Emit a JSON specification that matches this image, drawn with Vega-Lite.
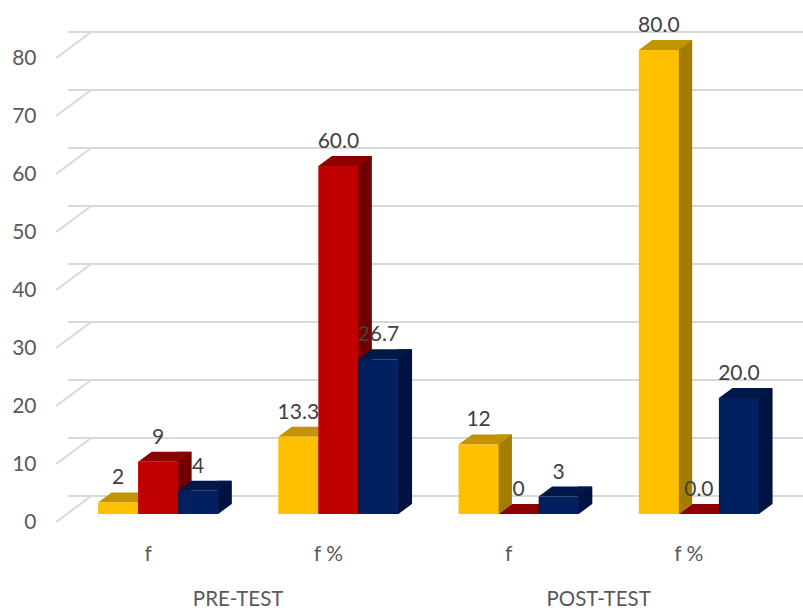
{"$schema":"https://vega.github.io/schema/vega-lite/v6.json","width":721,"height":464,"autosize":"none","padding":{"left":68,"top":50,"right":14,"bottom":94},"background":"white","config":{"view":{"stroke":null},"font":"Lato"},
"datasets":{"bars":[
{"cat":"PRE-TEST|f","series":"a","value":2,"label":"2"},
{"cat":"PRE-TEST|f","series":"b","value":9,"label":"9"},
{"cat":"PRE-TEST|f","series":"c","value":4,"label":"4"},
{"cat":"PRE-TEST|f %","series":"a","value":13.3,"label":"13.3"},
{"cat":"PRE-TEST|f %","series":"b","value":60,"label":"60.0"},
{"cat":"PRE-TEST|f %","series":"c","value":26.7,"label":"26.7"},
{"cat":"POST-TEST|f","series":"a","value":12,"label":"12"},
{"cat":"POST-TEST|f","series":"b","value":0,"label":"0"},
{"cat":"POST-TEST|f","series":"c","value":3,"label":"3"},
{"cat":"POST-TEST|f %","series":"a","value":80,"label":"80.0"},
{"cat":"POST-TEST|f %","series":"b","value":0,"label":"0.0"},
{"cat":"POST-TEST|f %","series":"c","value":20,"label":"20.0"}],
"ticks":[{"v":0},{"v":10},{"v":20},{"v":30},{"v":40},{"v":50},{"v":60},{"v":70},{"v":80}],
"groups":[{"cat":"PRE-TEST|f","group":"PRE-TEST","v":0},{"cat":"POST-TEST|f","group":"POST-TEST","v":0}]},
"layer":[
{"data":{"name":"ticks"},"mark":{"type":"rule","color":"#D9D9D9","strokeWidth":2,"xOffset":23,"yOffset":-18},
"encoding":{"y":{"field":"v","type":"quantitative","scale":{"domain":[0,80],"nice":false},"axis":{"title":null,"domain":false,"ticks":false,"grid":false,"values":[0,10,20,30,40,50,60,70,80],"labelFontSize":21,"labelColor":"#595959","labelPadding":32,"labelOffset":8,"labelFont":"Lato"}}}},
{"data":{"name":"ticks"},"mark":{"type":"point","filled":false,"size":4,"opacity":1,"stroke":"#D9D9D9","strokeWidth":2,"shape":"M-102,8L-67,-18"},
"encoding":{"x":{"datum":"PRE-TEST|f","type":"nominal","scale":{"domain":["PRE-TEST|f","PRE-TEST|f %","POST-TEST|f","POST-TEST|f %"],"paddingInner":0.3333,"paddingOuter":0.1667},"axis":{"title":null,"domain":false,"ticks":false,"labelAngle":0,"labelFontSize":21,"labelColor":"#595959","labelPadding":29,"labelOffset":-10,"labelFont":"Lato","labelExpr":"split(datum.value,'|')[1]"}},"y":{"field":"v","type":"quantitative"}}},
{"data":{"name":"bars"},"transform":[{"filter":"datum.series==='a'"}],"mark":{"type":"rule","strokeWidth":14.5,"color":"#A37D00","xOffset":-13.95,"yOffset":-10,"y2Offset":-10},
"encoding":{"x":{"field":"cat","type":"nominal"},"y":{"field":"value","type":"quantitative"},"y2":{"datum":0}}},
{"data":{"name":"bars"},"transform":[{"filter":"datum.series==='b'"}],"mark":{"type":"rule","strokeWidth":14.5,"color":"#700000","xOffset":26.25,"yOffset":-10,"y2Offset":-10},
"encoding":{"x":{"field":"cat","type":"nominal"},"y":{"field":"value","type":"quantitative"},"y2":{"datum":0}}},
{"data":{"name":"bars"},"transform":[{"filter":"datum.series==='c'"}],"mark":{"type":"rule","strokeWidth":14.5,"color":"#001340","xOffset":66.45,"yOffset":-10,"y2Offset":-10},
"encoding":{"x":{"field":"cat","type":"nominal"},"y":{"field":"value","type":"quantitative"},"y2":{"datum":0}}},
{"data":{"name":"bars"},"mark":{"type":"point","filled":true,"size":4,"opacity":1,"shape":"M19,0L19,-10L33.5,-10L20,0Z"},
"encoding":{"x":{"field":"cat","type":"nominal"},"xOffset":{"field":"series","type":"nominal","scale":{"paddingInner":0,"paddingOuter":0}},"y":{"datum":0,"type":"quantitative"},"color":{"field":"series","type":"nominal","legend":null,"scale":{"domain":["a","b","c"],"range":["#A37D00","#700000","#001340"]}}}},
{"data":{"name":"bars"},"mark":{"type":"point","filled":true,"size":4,"opacity":1,"shape":"M-20,0L-6.5,-10L33.5,-10L20,0Z"},
"encoding":{"x":{"field":"cat","type":"nominal"},"xOffset":{"field":"series","type":"nominal"},"y":{"field":"value","type":"quantitative"},"color":{"field":"series","type":"nominal","legend":null,"scale":{"domain":["a","b","c"],"range":["#C29400","#8F0000","#001848"]}}}},
{"data":{"name":"bars"},"mark":{"type":"bar"},
"encoding":{"x":{"field":"cat","type":"nominal"},"xOffset":{"field":"series","type":"nominal"},"y":{"field":"value","type":"quantitative","stack":null},"color":{"field":"series","type":"nominal","legend":null,"scale":{"domain":["a","b","c"],"range":["#FFC000","#C00000","#002060"]}}}},
{"data":{"name":"bars"},"mark":{"type":"text","fontSize":21,"color":"#404040","dy":-24,"baseline":"middle","font":"Lato"},
"encoding":{"x":{"field":"cat","type":"nominal"},"xOffset":{"field":"series","type":"nominal"},"y":{"field":"value","type":"quantitative"},"text":{"field":"label"}}},
{"data":{"name":"groups"},"mark":{"type":"text","fontSize":20.5,"color":"#595959","dx":80,"dy":85.5,"baseline":"middle","font":"Lato"},
"encoding":{"x":{"field":"cat","type":"nominal"},"y":{"field":"v","type":"quantitative"},"text":{"field":"group"}}}
],
"resolve":{"scale":{"color":"independent"}}}
